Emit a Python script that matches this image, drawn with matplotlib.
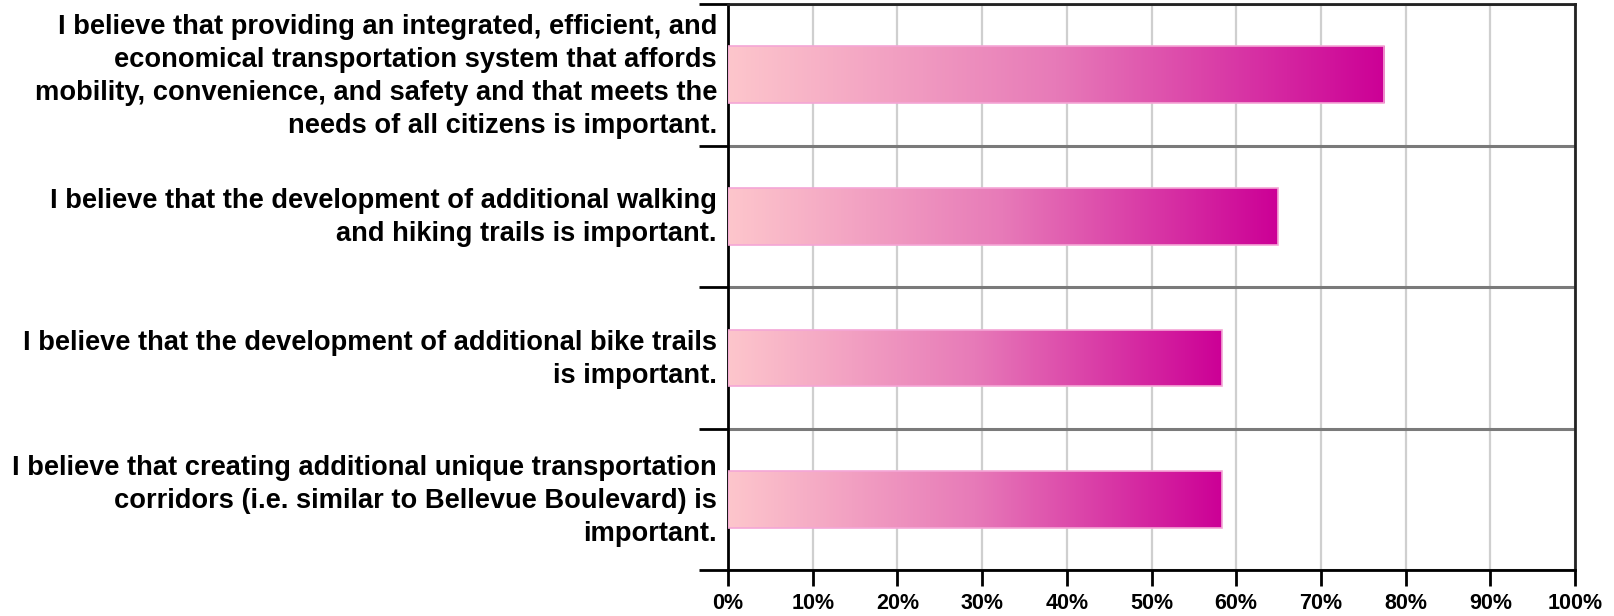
import numpy as np
import matplotlib
matplotlib.use('Agg')
import matplotlib.pyplot as plt
import matplotlib.transforms as mtransforms
from matplotlib.colors import LinearSegmentedColormap

# survey statements (top to bottom) and share agreeing, in percent
statements = [
    'I believe that providing an integrated, efficient, and\n'
    'economical transportation system that affords\n'
    'mobility, convenience, and safety and that meets the\n'
    'needs of all citizens is important.',
    'I believe that the development of additional walking\n'
    'and hiking trails is important.',
    'I believe that the development of additional bike trails\n'
    'is important.',
    'I believe that creating additional unique transportation\n'
    'corridors (i.e. similar to Bellevue Boulevard) is\n'
    'important.',
]
pct = [77.5, 64.9, 58.3, 58.3]
xticks = [0, 10, 20, 30, 40, 50, 60, 70, 80, 90, 100]
xlabels = ['%d%%' % t for t in xticks]

plt.rcParams['font.family'] = ['Liberation Sans', 'DejaVu Sans']
plt.rcParams['font.weight'] = 'bold'

fig = plt.figure(figsize=(16.14, 6.16), dpi=100)
ax = fig.add_axes([0.4511, 0.0745, 0.5247, 0.919])

cmap = LinearSegmentedColormap.from_list('pinkgrad', ['#FDC6CC', '#E77AB8', '#CC0096'])
grad = np.linspace(0, 1, 256).reshape(1, -1)

ypos = np.arange(len(pct))
bars = ax.barh(ypos, pct, height=0.4, facecolor='none', edgecolor='#F4A6D6', linewidth=1.2, zorder=4)
for b in bars:
    x0, y0, w, h = b.get_x(), b.get_y(), b.get_width(), b.get_height()
    im = ax.imshow(grad, cmap=cmap, aspect='auto', extent=(x0, x0 + w, y0 + h, y0),
                   interpolation='bilinear', zorder=3)
    im.set_clip_path(b)

ax.set_xlim(0, 100)
ax.set_ylim(len(pct) - 0.5, -0.5)
ax.set_aspect('auto')

ax.set_xticks(xticks)
ax.set_xticklabels(xlabels, fontsize=15.5, fontweight='bold')
ax.tick_params(axis='x', length=11.5, width=2, pad=5, color='black')

# category boundaries as major ticks, labels at the centres
ax.set_yticks(np.arange(-0.5, len(pct), 1.0))
ax.set_yticklabels([])
ax.set_yticks(ypos, minor=True)
ax.set_yticklabels(statements, minor=True, fontsize=19.6, fontweight='bold', linespacing=1.36)
ax.tick_params(axis='y', which='major', length=21, width=2, color='black')
ax.tick_params(axis='y', which='minor', length=0, pad=8)
shift = mtransforms.ScaledTranslation(0, 5 / 100, fig.dpi_scale_trans)
for lab in ax.get_yticklabels(minor=True):
    lab.set_transform(lab.get_transform() + shift)

ax.grid(axis='x', color='#CFCFCF', linewidth=1.6, zorder=0)
ax.grid(axis='y', which='major', color='#7A7A7A', linewidth=2.2, zorder=1)
ax.set_axisbelow(True)

for s in ax.spines.values():
    s.set_linewidth(2)
    s.set_color('#222222')
ax.spines['left'].set_color('black')
ax.spines['bottom'].set_color('black')

fig.savefig('out.png', dpi=100)
